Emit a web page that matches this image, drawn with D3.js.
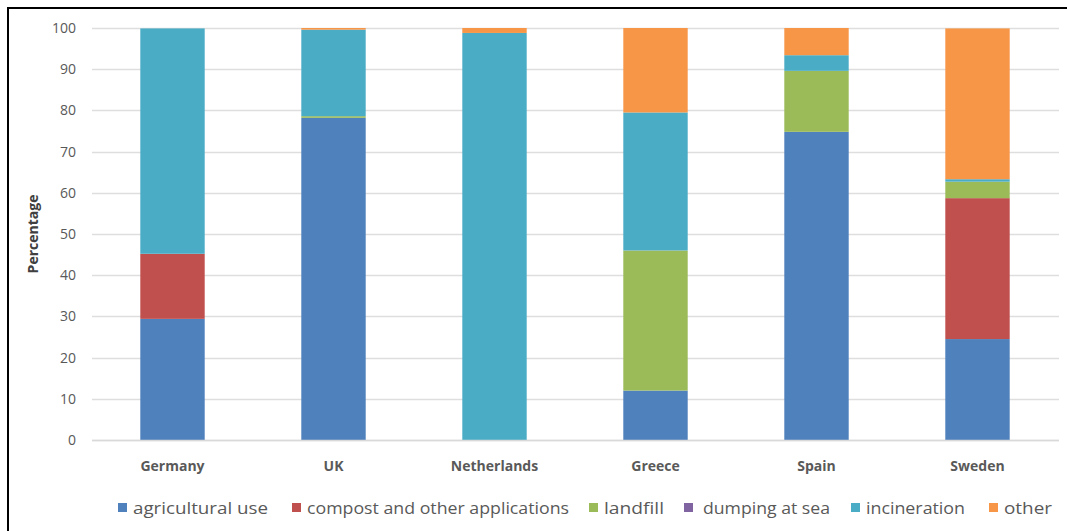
<!DOCTYPE html>
<html>
<head>
<meta charset="utf-8">
<script src="https://cdn.jsdelivr.net/npm/d3@7"></script>
<style>
  html, body { margin: 0; padding: 0; background: #fff; }
  svg { display: block; }
</style>
</head>
<body>
<svg id="chart" width="1067" height="531"></svg>
<script>
// Sludge disposal routes by country (share of total, %)
const countries = ["Germany", "UK", "Netherlands", "Greece", "Spain", "Sweden"];
const routes = ["agricultural use", "compost and other applications", "landfill", "dumping at sea", "incineration", "other"];
const routeColors = ["#4F81BD", "#C0504D", "#9BBB59", "#8064A2", "#4BACC6", "#F79646"];

const agriculturalUse = [29.4, 78.2, 0, 12.0, 74.8, 24.5];
const compost         = [15.8, 0, 0, 0, 0, 34.2];
const landfill        = [0, 0.4, 0, 34.0, 14.8, 4.0];
const dumpingAtSea    = [0, 0, 0, 0, 0, 0];
const incineration    = [54.7, 21.0, 98.8, 33.5, 3.8, 0.6];
const other           = [0, 0.4, 1.2, 20.5, 6.6, 36.6];

const yTicks = [0, 10, 20, 30, 40, 50, 60, 70, 80, 90, 100];

const seriesValues = [agriculturalUse, compost, landfill, dumpingAtSea, incineration, other];
const rows = countries.map((c, i) => {
  const r = { country: c };
  routes.forEach((k, j) => { r[k] = seriesValues[j][i]; });
  return r;
});

const svg = d3.select("#chart");
const margin = { left: 92, right: 9, top: 28, bottom: 91 };
const W = 1067, H = 531;

const x = d3.scaleBand().domain(countries).range([margin.left, W - margin.right]).paddingInner(0.6).paddingOuter(0.3);
const y = d3.scaleLinear().domain([0, 100]).range([H - margin.bottom, margin.top]);

// Frame
svg.append("path")
  .attr("d", `M8,${H} L8,8 L${W},8`)
  .attr("fill", "none").attr("stroke", "#000").attr("stroke-width", 2);

// Gridlines
svg.append("g")
  .selectAll("line").data(yTicks).join("line")
  .attr("x1", margin.left).attr("x2", W - margin.right + 1)
  .attr("y1", d => Math.round(y(d)) + 0.5).attr("y2", d => Math.round(y(d)) + 0.5)
  .attr("stroke", "#DEDEDE").attr("stroke-width", 1.5);

// Y axis labels
const yAxis = svg.append("g")
  .attr("transform", `translate(${margin.left - 16},0)`)
  .call(d3.axisLeft(y).tickValues(yTicks).tickSize(0).tickPadding(0));
yAxis.select(".domain").remove();
yAxis.selectAll("text")
  .attr("font-family", "Open Sans, sans-serif").attr("font-size", 14)
  .attr("fill", "#595959");

// Stacked bars
const stack = d3.stack().keys(routes);
const layers = stack(rows);
svg.append("g")
  .selectAll("g").data(layers).join("g")
  .attr("fill", (d, i) => routeColors[i])
  .selectAll("rect").data(d => d).join("rect")
  .attr("x", d => x(d.data.country))
  .attr("width", x.bandwidth())
  .attr("y", d => y(d[1]))
  .attr("height", d => Math.max(0, y(d[0]) - y(d[1])));

// Baseline
svg.append("line")
  .attr("x1", margin.left).attr("x2", W - margin.right + 1)
  .attr("y1", Math.round(y(0)) + 0.5).attr("y2", Math.round(y(0)) + 0.5)
  .attr("stroke", "#D9D9D9").attr("stroke-width", 1.5);

// X axis labels
const xAxis = svg.append("g")
  .attr("transform", `translate(0,${y(0) + 21})`)
  .call(d3.axisBottom(x).tickSize(0).tickPadding(0));
xAxis.select(".domain").remove();
xAxis.selectAll("text")
  .attr("font-family", "Open Sans, sans-serif").attr("font-size", 14)
  .attr("font-weight", "bold").attr("fill", "#595959");

// Y axis title
svg.append("text")
  .attr("transform", `translate(38,${y(50)}) rotate(-90)`)
  .attr("text-anchor", "middle")
  .attr("font-family", "Open Sans, sans-serif").attr("font-size", 14)
  .attr("font-weight", "bold").attr("fill", "#404040")
  .text("Percentage");

// Legend
const legendStarts = [118, 292, 589, 684, 851, 989];
const legendTextWidths = [135, 262, 60, 127, 99, 48];
const legend = svg.append("g").attr("transform", `translate(0,508)`);
const items = legend.selectAll("g").data(routes).join("g")
  .attr("transform", (d, i) => `translate(${legendStarts[i]},0)`);
items.append("rect")
  .attr("x", 0).attr("y", -5).attr("width", 9).attr("height", 9)
  .attr("fill", (d, i) => routeColors[i]);
items.append("text")
  .attr("x", (d, i) => i === 3 ? 19 : 15).attr("y", 0).attr("dy", "0.35em")
  .attr("font-family", "Open Sans, sans-serif").attr("font-size", 16)
  .attr("fill", "#595959")
  .attr("textLength", (d, i) => legendTextWidths[i])
  .attr("lengthAdjust", "spacingAndGlyphs")
  .text(d => d);
</script>
</body>
</html>
